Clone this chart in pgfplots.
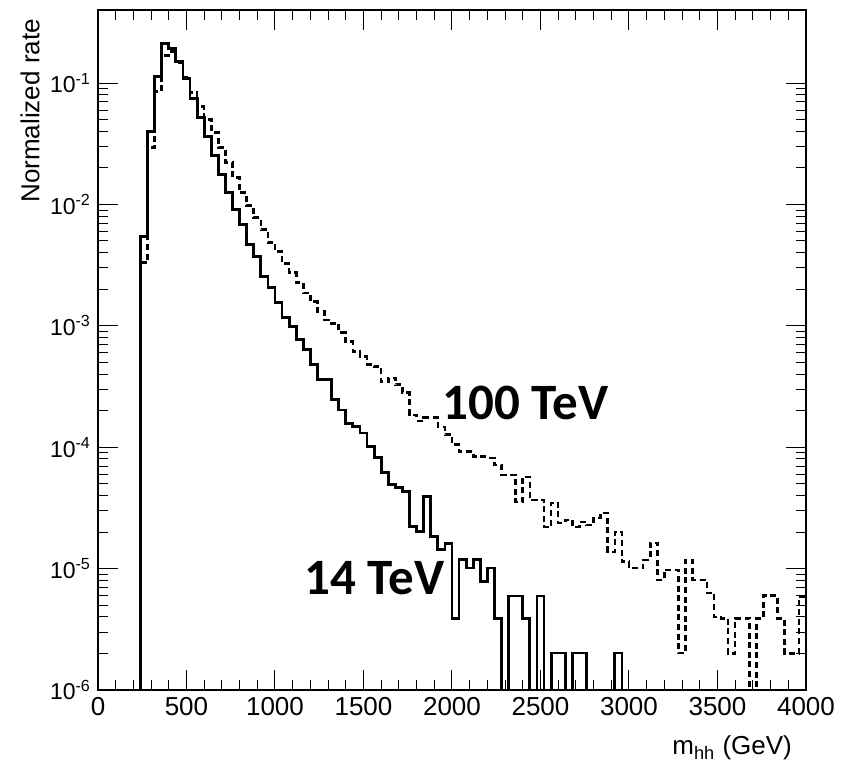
\documentclass[border=0pt]{standalone}
\usepackage{fontspec}
\setmainfont{Liberation Sans}
\newfontfamily\calibri{Carlito}
\usepackage{pgfplots}
\usepackage{pgfplotstable}
\pgfplotsset{compat=1.18}

% bin left edges (40 GeV bins); 1e-6 = empty bin (drawn on the frame)
\pgfplotstableread{
x s14 s100
0 1e-6 1e-6
40 1e-6 1e-6
80 1e-6 1e-6
120 1e-6 1e-6
160 1e-6 1e-6
200 1e-6 1e-6
240 5.43e-3 3.31e-3
280 0.0400 0.0294
320 0.1131 0.0851
360 0.2116 0.1685
400 0.1925 0.1818
440 0.1504 0.1476
480 0.1089 0.1110
520 0.0745 0.0835
560 0.0519 0.0640
600 0.0362 0.0500
640 0.0254 0.0391
680 0.0176 0.0294
720 0.01251 0.0221
760 0.00906 0.01663
800 0.00682 0.01251
840 0.00466 0.00977
880 0.00373 0.00778
920 0.00255 0.00620
960 0.00207 0.00484
1000 0.00155 0.00408
1040 0.00117 0.00325
1080 9.89e-4 0.00274
1120 7.68e-4 0.00227
1160 6.35e-4 0.00187
1200 4.78e-4 0.00158
1240 3.59e-4 0.00131
1280 3.59e-4 0.00112
1320 2.46e-4 0.00104
1360 2.03e-4 8.77e-4
1400 1.58e-4 7.39e-4
1440 1.48e-4 6.12e-4
1480 1.31e-4 5.56e-4
1520 1.01e-4 4.78e-4
1560 8.18e-5 4.60e-4
1600 6.15e-5 3.46e-4
1640 4.90e-5 3.73e-4
1680 4.63e-5 3.27e-4
1720 4.29e-5 2.81e-4
1760 2.22e-5 1.85e-4
1800 2.02e-5 1.65e-4
1840 3.92e-5 1.75e-4
1880 1.84e-5 1.75e-4
1920 1.43e-5 1.47e-4
1960 1.62e-5 1.27e-4
2000 3.90e-6 1.05e-4
2040 1.18e-5 9.17e-5
2080 1.01e-5 9.17e-5
2120 1.18e-5 8.34e-5
2160 7.81e-6 8.34e-5
2200 1.01e-5 8.18e-5
2240 3.90e-6 7.16e-5
2280 1e-6 5.92e-5
2320 5.95e-6 5.92e-5
2360 5.95e-6 3.55e-5
2400 3.90e-6 5.70e-5
2440 1e-6 3.68e-5
2480 5.95e-6 3.68e-5
2520 1e-6 2.21e-5
2560 2.02e-6 3.48e-5
2600 2.02e-6 2.38e-5
2640 1e-6 2.52e-5
2680 2.02e-6 2.21e-5
2720 2.02e-6 2.43e-5
2760 1e-6 2.29e-5
2800 1e-6 2.62e-5
2840 1e-6 2.88e-5
2880 1e-6 1.37e-5
2920 2.02e-6 2.01e-5
2960 1e-6 1.14e-5
3000 1e-6 1.01e-5
3040 1e-6 1.01e-5
3080 1e-6 1.18e-5
3120 1e-6 1.63e-5
3160 1e-6 8.07e-6
3200 1e-6 9.76e-6
3240 1e-6 9.76e-6
3280 1e-6 2.02e-6
3320 1e-6 1.18e-5
3360 1e-6 8.07e-6
3400 1e-6 8.07e-6
3440 1e-6 6.30e-6
3480 1e-6 4.0e-6
3520 1e-6 3.9e-6
3560 1e-6 2.0e-6
3600 1e-6 3.9e-6
3640 1e-6 3.9e-6
3680 1e-6 1e-6
3720 1e-6 3.9e-6
3760 1e-6 6.0e-6
3800 1e-6 6.0e-6
3840 1e-6 3.9e-6
3880 1e-6 2.0e-6
3920 1e-6 2.0e-6
3960 1e-6 5.9e-6
4000 1e-6 5.9e-6
}\mhh

\begin{document}
\begin{tikzpicture}
\begin{axis}[
  scale only axis,
  width=354pt, height=340pt,
  ymode=log,
  xmin=0, xmax=4000,
  ymin=1e-6, ymax=0.4,
  xtick={0,500,...,4000},
  minor x tick num=4,
  ytick={1e-6,1e-5,1e-4,1e-3,1e-2,1e-1},
  yticklabels={10\textsuperscript{-6},10\textsuperscript{-5},10\textsuperscript{-4},10\textsuperscript{-3},10\textsuperscript{-2},10\textsuperscript{-1}},
  tick align=inside,
  major tick length=10pt,
  minor tick length=5pt,
  every tick/.style={black, line width=0.5pt},
  axis line style={line width=0.8pt},
  /pgf/number format/assume math mode=true,
  /pgf/number format/1000 sep={},
  xticklabel style={font=\fontsize{13}{15}\selectfont},
  yticklabel style={font=\fontsize{11.5}{13}\selectfont},
  ylabel={Normalized rate},
  ylabel style={at={(axis description cs:-0.096,0.997)}, anchor=east, font=\fontsize{13}{15}\selectfont},
  xlabel={m\textsubscript{hh} (GeV)},
  xlabel style={at={(axis description cs:0.99,-0.085)}, anchor=east, font=\fontsize{13}{15}\selectfont},
]
\addplot[const plot, black, line width=1.4pt, line join=miter] table[x=x, y=s14] {\mhh};
\addplot[const plot, black, line width=1.3pt, dash pattern=on 3pt off 1.8pt] table[x=x, y=s100] {\mhh};
\node[font=\calibri\bfseries\fontsize{25.5}{28}\selectfont] at (axis cs:2415,2.32e-4) {100 TeV};
\node[font=\calibri\bfseries\fontsize{25.5}{28}\selectfont] at (axis cs:1562,8.4e-6) {14 TeV};
\coordinate (bbl) at (rel axis cs:-0.1384,-0.1132);
\coordinate (btr) at (rel axis cs:1.0636,1.0147);
\end{axis}
\path (bbl) rectangle (btr);
\end{tikzpicture}
\end{document}
